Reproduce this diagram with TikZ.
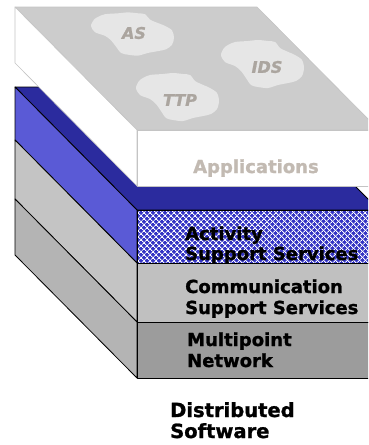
\documentclass[tikz,border=0pt]{standalone}
\usepackage{fontspec}
\setmainfont{DejaVu Sans}
\newfontface\heavyfont[FakeBold=1.2]{DejaVu Sans Bold}
\newfontface\heavyslant[FakeBold=1.2]{DejaVu Sans Bold Oblique}
\usetikzlibrary{patterns.meta}

\definecolor{slabtop}{HTML}{CCCCCC}
\definecolor{slabline}{HTML}{C4C4C4}
\definecolor{cloudfill}{HTML}{E6E6E6}
\definecolor{cloudtxt}{HTML}{ABA59F}
\definecolor{apptxt}{HTML}{C2BAB2}
\definecolor{bluetop}{HTML}{2B2B9E}
\definecolor{blueside}{HTML}{5A5AD6}
\definecolor{bluefront}{HTML}{3434C4}
\definecolor{commside}{HTML}{C4C4C4}
\definecolor{commfront}{HTML}{C0C0C0}
\definecolor{netside}{HTML}{B4B4B4}
\definecolor{netfront}{HTML}{9C9C9C}

\begin{document}
\begin{tikzpicture}[x=1pt,y=-1pt,
  edge/.style={draw=black, line width=0.8pt, line join=round},
  slabedge/.style={draw=slabline, line width=0.6pt, line join=round},
  layertext/.style={font=\fontsize{18}{20}\selectfont\heavyfont, anchor=base west, inner sep=0pt},
  cloudtext/.style={font=\fontsize{16}{16}\selectfont\heavyslant, text=cloudtxt, inner sep=0pt},
  hatch/.style={pattern={Lines[angle=#1,distance=4pt,line width=1pt]}, pattern color=white},
  blob/.pic={
    \fill[cloudfill] plot[smooth cycle, tension=0.5] coordinates {
      (-35,-19) (-28,-22) (-15,-23) (-5,-24) (5,-23) (12,-22) (17,-16)
      (23,-13) (32,-9) (39,-4) (41,4) (39,12) (33,17) (25,19) (15,21)
      (5,24) (-5,23) (-12,21) (-17,14) (-22,7) (-28,2) (-38,-2)
      (-42,-9) (-39,-16)};
  }
]
\useasboundingbox (0,0) rectangle (368,445);
\clip (0,0) rectangle (368,445);

% ---- lower block: activity / communication / network layers ----
\filldraw[fill=bluetop, edge] (15,87) -- (256,87) -- (379,210) -- (137,210) -- cycle;
\filldraw[fill=blueside, edge] (15,87) -- (137,210) -- (137,263) -- (15,140) -- cycle;
\filldraw[fill=commside, edge] (15,140) -- (137,263) -- (137,322) -- (15,199) -- cycle;
\filldraw[fill=netside, edge] (15,199) -- (137,322) -- (137,378) -- (15,255) -- cycle;

\fill[bluefront] (137,210) rectangle (379,263);
\fill[hatch=45] (137,210) rectangle (379,263);
\fill[hatch=-45] (137,210) rectangle (379,263);
\draw[edge] (137,210) rectangle (379,263);
\filldraw[fill=commfront, edge] (137,263) rectangle (379,322);
\filldraw[fill=netfront, edge] (137,322) rectangle (379,378);

% ---- applications slab on top ----
\filldraw[fill=slabtop, slabedge] (15,7) -- (257,7) -- (379,130) -- (137,130) -- cycle;
\filldraw[fill=white, slabedge] (15,7) -- (137,130) -- (137,186) -- (15,63) -- cycle;
\filldraw[fill=white, slabedge] (137,130) rectangle (379,186);

\pic[yscale=0.9] at (133,34) {blob};
\pic at (263,64) {blob};
\pic at (178,97) {blob};

\node[cloudtext] (as) at (134,33) {AS};
\node[cloudtext] (ids) at (267,67) {IDS};
\node[cloudtext] (ttp) at (180,100) {TTP};

\node[layertext, text=apptxt] (apps) at (193,173) {Applications};

% ---- layer labels ----
\node[layertext] (act1) at (185,240) {Activity};
\node[layertext] (act2) at (185,260) {Support Services};
\node[layertext] (com1) at (185,293) {Communication};
\node[layertext] (com2) at (185,314) {Support Services};
\node[layertext] (net1) at (187,346) {Multipoint};
\node[layertext] (net2) at (187,367) {Network};

\node[layertext, font=\fontsize{19.5}{21}\selectfont\heavyfont] (dist1) at (170,417) {Distributed};
\node[layertext, font=\fontsize{19.5}{21}\selectfont\heavyfont] (dist2) at (170,438) {Software};
\end{tikzpicture}
\end{document}
